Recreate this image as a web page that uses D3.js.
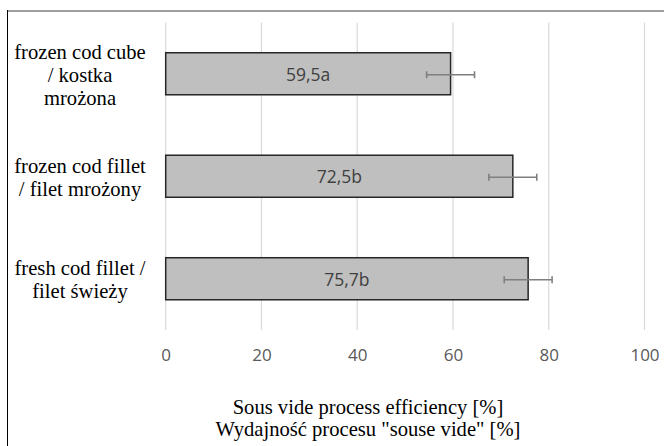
<!DOCTYPE html>
<html>
<head>
<meta charset="utf-8">
<script src="https://cdn.jsdelivr.net/npm/d3@7"></script>
<style>
html,body{margin:0;padding:0;background:#fff;}
svg{display:block;}
</style>
</head>
<body>
<svg id="chart" width="664" height="446"></svg>
<script>
const categories = [
  ["frozen cod cube", "/ kostka", "mrożona"],
  ["frozen cod fillet", "/ filet mrożony"],
  ["fresh cod fillet /", "filet świeży"]
];
const values = [59.5, 72.5, 75.7];
const errors = [5.0, 5.0, 5.0];
const valueLabels = ["59,5a", "72,5b", "75,7b"];
const xTicks = [0, 20, 40, 60, 80, 100];
const axisTitle = ["Sous vide process efficiency [%]", "Wydajność procesu \"souse vide\" [%]"];

const SERIF = '"Liberation Serif"';
const SANS = '"Open Sans"';

const svg = d3.select("#chart");
const W = 664, H = 446;
const plot = {left: 165.7, right: 644.5, top: 22.5, bottom: 330};

// outer frame
svg.append("line").attr("x1", 7).attr("x2", W).attr("y1", 11).attr("y2", 11)
  .attr("stroke", "#7f7f7f").attr("stroke-width", 1.6);
svg.append("line").attr("x1", 7.5).attr("x2", 7.5).attr("y1", 10).attr("y2", H)
  .attr("stroke", "#000").attr("stroke-width", 1);

const x = d3.scaleLinear().domain([0, 100]).range([plot.left, plot.right]);
const y = d3.scaleBand().domain(d3.range(values.length)).range([plot.top, plot.bottom]).paddingInner(0.59).paddingOuter(0.295);

// gridlines
svg.append("g").selectAll("line").data(xTicks).join("line")
  .attr("x1", d => x(d)).attr("x2", d => x(d))
  .attr("y1", plot.top).attr("y2", plot.bottom)
  .attr("stroke", "#d9d9d9").attr("stroke-width", 1.2);

// tick labels via axis
const axis = d3.axisBottom(x).tickValues(xTicks).tickSize(0).tickPadding(0).tickFormat(d3.format("d"));
const gAxis = svg.append("g").attr("transform", `translate(0,${plot.bottom})`).call(axis);
gAxis.select(".domain").remove();
gAxis.selectAll("text")
  .attr("y", 25).attr("dy", "0.35em")
  .style("font-family", SANS).style("font-size", "17px").style("fill", "#595959");

// bars
svg.append("g").selectAll("rect").data(values).join("rect")
  .attr("x", x(0)).attr("y", (d, i) => y(i))
  .attr("width", d => x(d) - x(0)).attr("height", y.bandwidth())
  .attr("fill", "#bfbfbf").attr("stroke", "#262626").attr("stroke-width", 1.5);

// value labels
svg.append("g").selectAll("text").data(values).join("text")
  .attr("x", d => (x(0) + x(d)) / 2)
  .attr("y", (d, i) => y(i) + y.bandwidth() / 2 + 1)
  .attr("dy", "0.35em").attr("text-anchor", "middle")
  .style("font-family", SANS).style("font-size", "17.5px").style("fill", "#404040")
  .text((d, i) => valueLabels[i]);

// error bars
const eb = svg.append("g").attr("stroke", "#7f7f7f").attr("stroke-width", 1.6);
values.forEach((v, i) => {
  const cy = y(i) + y.bandwidth() / 2 + 1;
  eb.append("line").attr("x1", x(v - errors[i])).attr("x2", x(v + errors[i])).attr("y1", cy).attr("y2", cy);
  [v - errors[i], v + errors[i]].forEach(e => {
    eb.append("line").attr("x1", x(e)).attr("x2", x(e)).attr("y1", cy - 3.5).attr("y2", cy + 3.5);
  });
});

// category labels (one text element per line)
const lineH = 23;
categories.forEach((lines, i) => {
  const cy = y(i) + y.bandwidth() / 2;
  lines.forEach((ln, k) => {
    svg.append("text").attr("text-anchor", "middle")
      .attr("x", 80)
      .attr("y", cy + (k - (lines.length - 1) / 2) * lineH + 8)
      .style("font-family", SERIF).style("font-size", "20.6px").style("fill", "#000")
      .text(ln);
  });
});

// axis title
axisTitle.forEach((ln, k) => {
  svg.append("text").attr("text-anchor", "middle")
    .attr("x", 368).attr("y", 407 + k * 21.5 + 7)
    .style("font-family", SERIF).style("font-size", "20.6px").style("fill", "#000")
    .text(ln);
});
</script>
</body>
</html>
